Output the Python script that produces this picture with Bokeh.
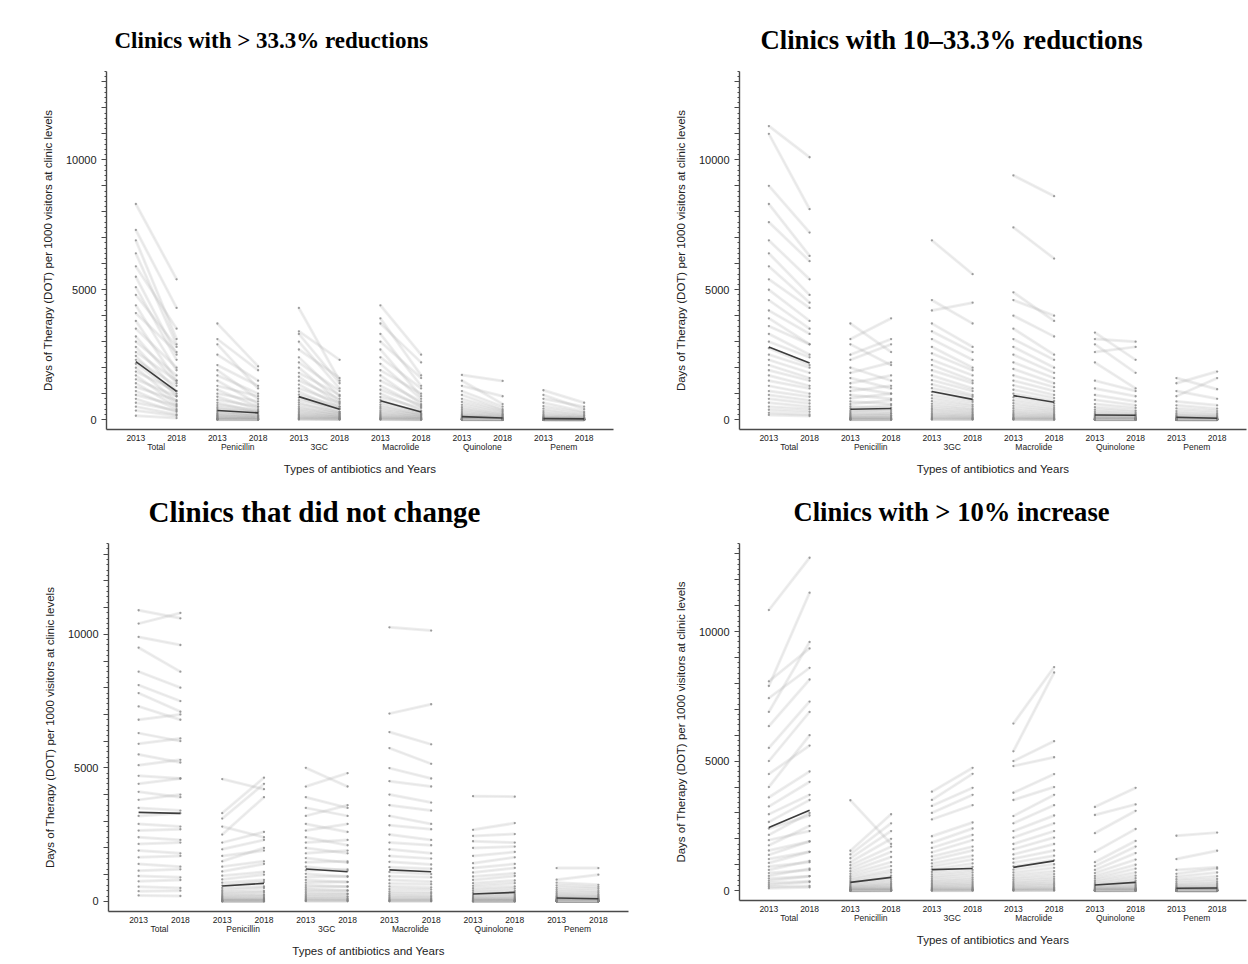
from bokeh.plotting import figure
from bokeh.layouts import column, row
from bokeh.models import (ColumnDataSource, Range1d, FixedTicker, LinearAxis)
from bokeh.embed import file_html
from bokeh.resources import INLINE

# ---------------------------------------------------------------- categories
DRUGS = ["Total", "Penicillin", "3GC", "Macrolide", "Quinolone", "Penem"]
YEARS = ["2013", "2018"]
Y_MAJOR_TICKS = [0, 1000, 2000, 3000, 4000, 5000, 6000, 7000, 8000, 9000,
                 10000, 11000, 12000, 13000]
Y_TICK_LABELS = {0: "0", 5000: "5000", 10000: "10000"}

PANEL_TITLES = ["Clinics with > 33.3% reductions",
                "Clinics with 10\u201333.3% reductions",
                "Clinics that did not change",
                "Clinics with > 10% increase"]

# ------------------------------------------- clinics with > 33.3% reductions
red33_total_2013 = [8300, 7300, 6900, 6400, 5900, 5500, 5100, 4800, 4400, 4100, 3800, 3500, 3200, 3000, 2800, 2600,
                    2450, 2300, 2150, 2000, 1850, 1700, 1550, 1400, 1250, 1100, 950, 800, 650, 500, 350, 150]
red33_total_2018 = [5400, 4300, 3100, 2900, 3500, 2500, 2300, 2800, 1900, 2600, 1500, 2000, 1400, 1700, 1100, 1500,
                    900, 1300, 1000, 700, 1100, 600, 900, 500, 750, 400, 550, 300, 350, 200, 150, 60]
red33_pen_2013 = [3700, 3100, 2900, 2500, 2100, 1900, 1700, 1500, 1300, 1150, 1000, 880, 760, 650, 560, 480,
                  410, 350, 300, 250, 210, 170, 140, 110, 85, 60, 40, 25, 15, 8, 4, 0]
red33_pen_2018 = [2050, 1900, 1200, 1500, 1300, 800, 1000, 600, 900, 500, 700, 400, 500, 300, 350, 250,
                  300, 150, 200, 120, 150, 80, 100, 60, 50, 30, 25, 10, 10, 5, 2, 0]
red33_3gc_2013 = [4300, 3400, 3300, 3000, 2700, 2400, 2200, 2000, 1800, 1650, 1500, 1350, 1200, 1080, 960, 850,
                  750, 660, 580, 500, 430, 370, 310, 260, 210, 170, 130, 95, 65, 40, 20, 5]
red33_3gc_2018 = [1500, 2300, 1400, 1200, 1600, 900, 1100, 700, 950, 600, 800, 500, 650, 400, 500, 300,
                  420, 250, 300, 200, 230, 150, 160, 110, 100, 80, 60, 40, 30, 15, 10, 2]
red33_mac_2013 = [4400, 3900, 3700, 3300, 3000, 2700, 2400, 2150, 1900, 1700, 1500, 1300, 1150, 1000, 870, 760,
                  660, 570, 490, 420, 350, 290, 240, 190, 150, 115, 85, 60, 40, 20, 8, 2]
red33_mac_2018 = [2500, 1700, 2200, 1300, 1600, 900, 1200, 800, 1000, 600, 700, 500, 550, 350, 450, 250,
                  300, 200, 220, 150, 170, 100, 110, 80, 60, 45, 35, 20, 15, 8, 3, 0]
red33_quin_2013 = [1720, 1500, 1300, 1100, 950, 800, 680, 570, 480, 400, 330, 270, 220, 180, 150, 120,
                   95, 75, 60, 48, 38, 30, 22, 16, 11, 8, 5, 3, 2, 1, 0, 0]
red33_quin_2018 = [1490, 600, 900, 500, 400, 350, 300, 250, 200, 180, 140, 110, 90, 70, 60, 50,
                   40, 30, 25, 20, 15, 12, 10, 7, 5, 3, 2, 1, 1, 0, 0, 0]
red33_penem_2013 = [1130, 950, 800, 650, 520, 420, 330, 260, 200, 150, 115, 90, 70, 55, 42, 32,
                    25, 18, 13, 9, 6, 4, 3, 2, 1, 1, 0, 0, 0, 0, 0, 0]
red33_penem_2018 = [650, 400, 500, 300, 250, 180, 150, 100, 80, 60, 50, 40, 30, 22, 18, 14,
                    10, 7, 5, 4, 3, 2, 1, 1, 0, 0, 0, 0, 0, 0, 0, 0]
red33_mean_2013 = [2230, 350, 885, 730, 115, 40]
red33_mean_2018 = [1090, 260, 400, 295, 65, 30]

# ------------------------------------------ clinics with 10-33.3% reductions
red10_total_2013 = [11300, 11000, 9000, 8300, 7600, 6900, 6400, 5900, 5400, 5000, 4600, 4200, 3900, 3600, 3300, 3000,
                    2750, 2500, 2300, 2100, 1900, 1700, 1500, 1300, 1100, 950, 800, 650, 500, 380, 260, 180]
red10_total_2018 = [10100, 8100, 7200, 6300, 6100, 5400, 4800, 4500, 4300, 3800, 3500, 3300, 2900, 2900, 2500, 2400,
                    2100, 2000, 1800, 1600, 1500, 1300, 1200, 1000, 880, 740, 620, 500, 400, 300, 200, 140]
red10_pen_2013 = [3700, 3100, 2900, 2500, 2300, 2000, 1800, 1600, 1400, 1250, 1100, 950, 820, 700, 600, 510,
                  430, 360, 300, 250, 200, 160, 125, 95, 70, 50, 35, 22, 12, 6, 2, 0]
red10_pen_2018 = [2600, 3900, 2100, 3100, 2900, 1500, 2200, 1200, 1700, 1000, 1300, 800, 1000, 600, 750, 450,
                  550, 320, 380, 230, 250, 150, 160, 90, 100, 45, 40, 20, 12, 5, 2, 0]
red10_3gc_2013 = [6900, 4600, 4200, 3700, 3400, 3100, 2800, 2550, 2300, 2100, 1900, 1700, 1520, 1360, 1210, 1070,
                  940, 820, 710, 610, 520, 440, 370, 300, 240, 190, 140, 100, 65, 35, 15, 3]
red10_3gc_2018 = [5600, 3700, 4500, 2800, 2600, 2300, 2000, 1900, 1700, 1500, 1400, 1200, 1100, 950, 880, 760,
                  680, 580, 510, 430, 370, 310, 260, 210, 170, 130, 100, 70, 45, 25, 10, 2]
red10_mac_2013 = [9400, 7400, 4900, 4600, 4000, 3500, 3100, 2800, 2500, 2200, 1950, 1700, 1500, 1320, 1150, 1000,
                  860, 740, 630, 530, 440, 360, 290, 230, 180, 135, 95, 65, 40, 20, 8, 1]
red10_mac_2018 = [8600, 6200, 3800, 4000, 3200, 2500, 2300, 2000, 1800, 1600, 1400, 1250, 1100, 950, 830, 720,
                  620, 530, 450, 380, 320, 260, 210, 170, 130, 100, 70, 45, 28, 14, 5, 0]
red10_quin_2013 = [3350, 3100, 2900, 2600, 2200, 1500, 1200, 950, 760, 600, 480, 380, 300, 240, 190, 150,
                   120, 95, 75, 58, 45, 34, 26, 19, 14, 10, 7, 4, 2, 1, 0, 0]
red10_quin_2018 = [2300, 3000, 1800, 2800, 1200, 1100, 900, 700, 550, 450, 350, 280, 220, 180, 140, 110,
                   90, 70, 55, 42, 33, 25, 19, 14, 10, 7, 5, 3, 2, 1, 0, 0]
red10_penem_2013 = [1600, 1400, 1100, 900, 700, 550, 430, 330, 250, 190, 145, 110, 85, 65, 50, 38,
                    29, 22, 16, 12, 9, 6, 4, 3, 2, 1, 1, 0, 0, 0, 0, 0]
red10_penem_2018 = [1170, 1850, 800, 1600, 550, 420, 330, 250, 190, 140, 110, 80, 62, 48, 36, 27,
                    20, 15, 11, 8, 6, 4, 3, 2, 1, 1, 0, 0, 0, 0, 0, 0]
red10_mean_2013 = [2795, 400, 1080, 925, 180, 90]
red10_mean_2018 = [2180, 430, 780, 670, 170, 55]

# ---------------------------------------------- clinics that did not change
same_total_2013 = [10900, 10400, 9900, 9500, 8600, 8100, 7800, 7300, 6800, 6300, 5900, 5500, 5100, 4700, 4400, 4100,
                   3800, 3500, 3200, 2900, 2650, 2400, 2150, 1900, 1650, 1400, 1150, 950, 750, 550, 380, 220]
same_total_2018 = [10600, 10800, 9600, 8600, 8000, 7500, 7100, 6800, 7000, 6000, 6100, 5200, 5300, 4600, 4600, 3900,
                   4000, 3400, 3300, 2800, 2700, 2300, 2200, 1800, 1700, 1300, 1200, 900, 800, 500, 400, 200]
same_pen_2013 = [4580, 3300, 3100, 2800, 2500, 2200, 1950, 1700, 1500, 1300, 1120, 960, 820, 700, 590, 500,
                 420, 350, 290, 240, 195, 155, 120, 90, 65, 45, 30, 18, 10, 4, 1, 0]
same_pen_2018 = [4200, 4630, 4400, 2400, 3900, 2600, 2300, 1900, 2000, 1500, 1400, 1100, 1000, 800, 720, 560,
                 500, 390, 340, 260, 220, 170, 130, 100, 70, 50, 33, 20, 11, 5, 1, 0]
same_3gc_2013 = [5000, 4300, 3900, 3500, 3200, 2900, 2650, 2400, 2200, 2000, 1800, 1620, 1460, 1300, 1160, 1030,
                 910, 800, 700, 610, 530, 455, 385, 320, 260, 205, 155, 110, 75, 45, 20, 5]
same_3gc_2018 = [4300, 4800, 3500, 3200, 3600, 2600, 2900, 2100, 2300, 1800, 1900, 1450, 1500, 1150, 1200, 920,
                 940, 720, 730, 550, 560, 410, 400, 290, 270, 190, 160, 100, 80, 40, 22, 4]
same_mac_2013 = [10260, 7030, 6340, 5740, 4990, 4500, 4000, 3600, 3200, 2850, 2500, 2200, 1950, 1700, 1480, 1280,
                 1100, 940, 800, 670, 560, 460, 370, 295, 230, 175, 125, 85, 55, 30, 12, 2]
same_mac_2018 = [10140, 7380, 5880, 5150, 4600, 4300, 3700, 3400, 2900, 2700, 2300, 2100, 1800, 1600, 1380, 1220,
                 1020, 900, 740, 640, 520, 440, 340, 280, 210, 165, 115, 80, 50, 28, 10, 1]
same_quin_2013 = [3940, 2680, 2450, 2250, 2000, 1700, 1430, 1250, 1080, 930, 800, 680, 580, 490, 410, 340,
                  280, 230, 185, 150, 120, 95, 74, 56, 42, 30, 20, 12, 7, 3, 1, 0]
same_quin_2018 = [3920, 2930, 2520, 2200, 2050, 1850, 1650, 1400, 1250, 1050, 950, 780, 680, 560, 480, 390,
                  330, 270, 220, 175, 140, 110, 85, 65, 48, 34, 23, 14, 8, 4, 1, 0]
same_penem_2013 = [1245, 810, 700, 600, 510, 430, 360, 300, 250, 205, 170, 140, 115, 92, 74, 58,
                   45, 35, 27, 20, 15, 11, 8, 5, 3, 2, 1, 0, 0, 0, 0, 0]
same_penem_2018 = [1245, 1000, 620, 540, 470, 390, 330, 270, 220, 185, 150, 120, 100, 80, 64, 50,
                   40, 30, 23, 17, 13, 9, 6, 4, 3, 2, 1, 0, 0, 0, 0, 0]
same_mean_2013 = [3330, 572, 1210, 1180, 275, 125]
same_mean_2018 = [3295, 672, 1110, 1110, 335, 95]

# ---------------------------------------------- clinics with > 10% increase
inc_total_2013 = [10830, 8080, 7900, 7430, 6900, 6350, 5510, 5000, 4500, 4000, 3600, 3250, 2950, 2650, 2400, 2150,
                  1950, 1750, 1550, 1380, 1220, 1070, 930, 800, 680, 570, 470, 380, 300, 220, 150, 90]
inc_total_2018 = [12850, 9350, 11500, 8600, 9600, 8150, 7300, 6900, 5600, 6000, 4600, 4200, 3700, 3500, 2900, 3000,
                  2300, 2500, 1900, 1900, 1500, 1500, 1100, 1150, 800, 850, 560, 560, 360, 330, 180, 130]
inc_pen_2013 = [3490, 1540, 1400, 1250, 1100, 980, 860, 750, 650, 560, 480, 410, 350, 295, 245, 200,
                165, 135, 108, 85, 66, 50, 37, 27, 19, 13, 8, 5, 3, 1, 0, 0]
inc_pen_2018 = [1800, 2950, 2600, 2300, 2000, 1700, 1500, 1300, 1100, 950, 800, 700, 580, 500, 420, 350,
                290, 240, 195, 155, 120, 95, 72, 54, 40, 28, 18, 11, 6, 3, 1, 0]
inc_3gc_2013 = [3820, 3500, 3270, 3000, 2750, 2100, 1850, 1650, 1480, 1320, 1180, 1050, 930, 820, 720, 630,
                550, 475, 405, 345, 290, 240, 195, 155, 120, 90, 65, 45, 28, 15, 6, 1]
inc_3gc_2018 = [4740, 4510, 3970, 3700, 3300, 2630, 2400, 2150, 1950, 1700, 1550, 1350, 1200, 1050, 920, 800,
                700, 600, 510, 430, 360, 300, 245, 195, 150, 115, 85, 58, 36, 20, 8, 1]
inc_mac_2013 = [6450, 5380, 5000, 4810, 3780, 3500, 2880, 2600, 2300, 2050, 1800, 1600, 1400, 1230, 1080, 940,
                810, 700, 600, 510, 430, 360, 295, 240, 190, 145, 105, 72, 45, 25, 10, 2]
inc_mac_2018 = [8630, 8420, 5770, 5150, 4500, 4000, 3700, 3300, 2900, 2600, 2300, 2050, 1800, 1550, 1350, 1180,
                1020, 880, 750, 640, 540, 450, 370, 300, 240, 185, 135, 95, 60, 33, 14, 3]
inc_quin_2013 = [3230, 2920, 2220, 1500, 1100, 950, 800, 680, 570, 480, 400, 330, 270, 220, 180, 145,
                 115, 90, 70, 54, 41, 31, 23, 17, 12, 8, 5, 3, 2, 1, 0, 0]
inc_quin_2018 = [3970, 3330, 3080, 2380, 1920, 1700, 1450, 1200, 1000, 850, 700, 580, 480, 390, 320, 260,
                 210, 170, 135, 105, 82, 63, 48, 36, 26, 18, 12, 7, 4, 2, 1, 0]
inc_penem_2013 = [2120, 1220, 800, 650, 540, 440, 360, 290, 230, 185, 145, 115, 90, 70, 54, 41,
                  31, 23, 17, 12, 9, 6, 4, 3, 2, 1, 1, 0, 0, 0, 0, 0]
inc_penem_2018 = [2240, 1540, 900, 850, 700, 560, 450, 360, 290, 230, 180, 140, 110, 85, 65, 50,
                  38, 28, 21, 15, 11, 8, 5, 3, 2, 1, 1, 0, 0, 0, 0, 0]
inc_mean_2013 = [2436, 320, 810, 900, 220, 90]
inc_mean_2018 = [3100, 512, 858, 1150, 320, 100]

PANEL_DATA = [
    ([(red33_total_2013, red33_total_2018), (red33_pen_2013, red33_pen_2018), (red33_3gc_2013, red33_3gc_2018),
      (red33_mac_2013, red33_mac_2018), (red33_quin_2013, red33_quin_2018), (red33_penem_2013, red33_penem_2018)],
     red33_mean_2013, red33_mean_2018),
    ([(red10_total_2013, red10_total_2018), (red10_pen_2013, red10_pen_2018), (red10_3gc_2013, red10_3gc_2018),
      (red10_mac_2013, red10_mac_2018), (red10_quin_2013, red10_quin_2018), (red10_penem_2013, red10_penem_2018)],
     red10_mean_2013, red10_mean_2018),
    ([(same_total_2013, same_total_2018), (same_pen_2013, same_pen_2018), (same_3gc_2013, same_3gc_2018),
      (same_mac_2013, same_mac_2018), (same_quin_2013, same_quin_2018), (same_penem_2013, same_penem_2018)],
     same_mean_2013, same_mean_2018),
    ([(inc_total_2013, inc_total_2018), (inc_pen_2013, inc_pen_2018), (inc_3gc_2013, inc_3gc_2018),
      (inc_mac_2013, inc_mac_2018), (inc_quin_2013, inc_quin_2018), (inc_penem_2013, inc_penem_2018)],
     inc_mean_2013, inc_mean_2018),
]

SANS = "Liberation Sans"
SERIF = "Liberation Serif"
AXIS_GREY = "#4a4a4a"
TEXT = "#222222"


def make_panel(idx, width, height, border, title_style):
    pairs, mean13, mean18 = PANEL_DATA[idx]
    left, right, top, bottom = border
    t_size, t_offset, t_standoff = title_style
    p = figure(width=width, height=height, output_backend="svg", toolbar_location=None,
               x_range=Range1d(0.28, 12.72), y_range=Range1d(-380, 13400),
               min_border_left=left, min_border_right=right,
               min_border_top=top, min_border_bottom=bottom)
    p.xgrid.visible = False
    p.ygrid.visible = False
    p.outline_line_color = None

    p.title.text = PANEL_TITLES[idx]
    p.title.align = "left"
    p.title.offset = t_offset
    p.title.standoff = t_standoff
    p.title.text_font = SERIF
    p.title.text_font_style = "bold"
    p.title.text_font_size = t_size
    p.title.text_color = "black"

    # one segment per clinic, from its 2013 value to its 2018 value
    x0, y0, x1, y1 = [], [], [], []
    for k, (v13, v18) in enumerate(pairs):
        for a, b in zip(v13, v18):
            x0.append(2 * k + 1)
            x1.append(2 * k + 2)
            y0.append(a)
            y1.append(b)
    seg = ColumnDataSource(dict(x0=x0, y0=y0, x1=x1, y1=y1))
    p.segment("x0", "y0", "x1", "y1", source=seg, line_color="#8f8f8f",
              line_alpha=0.15, line_width=3.0)
    p.segment("x0", "y0", "x1", "y1", source=seg, line_color="#c4c4c4",
              line_alpha=0.35, line_width=0.6)

    dots = ColumnDataSource(dict(x=x0 + x1, y=y0 + y1))
    p.scatter("x", "y", source=dots, size=2.3, marker="circle",
              fill_color="#858585", line_color=None, fill_alpha=0.8)

    # group average line for each antibiotic
    mx0 = [2 * k + 1 for k in range(len(DRUGS))]
    mx1 = [2 * k + 2 for k in range(len(DRUGS))]
    msrc = ColumnDataSource(dict(x0=mx0, y0=mean13, x1=mx1, y1=mean18))
    p.segment("x0", "y0", "x1", "y1", source=msrc, line_color="#3c3c3c",
              line_width=1.6)

    # y axis: labelled every 5000, ticks every 1000, minor every 200
    yax = p.yaxis[0]
    yax.ticker = FixedTicker(ticks=Y_MAJOR_TICKS,
                             minor_ticks=list(range(0, 13401, 200)))
    yax.major_label_overrides = {t: Y_TICK_LABELS.get(t, "") for t in Y_MAJOR_TICKS}
    yax.axis_label = "Days of Therapy (DOT) per 1000 visitors at clinic levels"
    yax.axis_label_text_font = SANS
    yax.axis_label_text_font_style = "normal"
    yax.axis_label_text_font_size = "11.5px"
    yax.axis_label_text_color = TEXT
    yax.axis_label_standoff = 9
    yax.major_label_text_font = SANS
    yax.major_label_text_font_size = "11px"
    yax.major_label_text_color = TEXT
    yax.major_label_standoff = 5
    yax.axis_line_color = AXIS_GREY
    yax.axis_line_width = 1.4
    yax.major_tick_line_color = AXIS_GREY
    yax.minor_tick_line_color = AXIS_GREY
    yax.major_tick_out = 5
    yax.major_tick_in = 0
    yax.minor_tick_out = 2
    yax.minor_tick_in = 0

    # x axis: year under each column
    xax = p.xaxis[0]
    xax.ticker = FixedTicker(ticks=list(range(1, 13)), minor_ticks=[])
    xax.major_label_overrides = {i + 1: YEARS[i % 2] for i in range(12)}
    xax.major_label_text_font = SANS
    xax.major_label_text_font_size = "8.5px"
    xax.major_label_text_color = TEXT
    xax.major_label_standoff = 5
    xax.major_tick_line_color = None
    xax.minor_tick_line_color = None
    xax.major_tick_out = 0
    xax.major_tick_in = 0
    xax.minor_tick_out = 0
    xax.minor_tick_in = 0
    xax.axis_line_color = AXIS_GREY
    xax.axis_line_width = 1.4

    # second row of x labels: antibiotic name centred on its pair of years
    cat_ticks = [2 * k + 1.5 for k in range(len(DRUGS))]
    cax = LinearAxis(ticker=FixedTicker(ticks=cat_ticks, minor_ticks=[]),
                     major_label_overrides={t: d for t, d in zip(cat_ticks, DRUGS)})
    cax.axis_line_color = None
    cax.major_tick_line_color = None
    cax.minor_tick_line_color = None
    cax.major_tick_out = 0
    cax.major_tick_in = 0
    cax.minor_tick_out = 0
    cax.minor_tick_in = 0
    cax.major_label_text_font = SANS
    cax.major_label_text_font_size = "8.5px"
    cax.major_label_text_color = TEXT
    cax.major_label_standoff = -2
    cax.axis_label = "Types of antibiotics and Years"
    cax.axis_label_text_font = SANS
    cax.axis_label_text_font_style = "normal"
    cax.axis_label_text_font_size = "11.5px"
    cax.axis_label_text_color = TEXT
    cax.axis_label_standoff = 8
    p.add_layout(cax, "below")
    return p


p1 = make_panel(0, 630, 478, (106, 17, 71, 49), ("23px", 8, 37))
p2 = make_panel(1, 618, 478, (109, 2, 71, 49), ("26.7px", 21, 33))
p3 = make_panel(2, 630, 486, (108, 2, 65, 53), ("29px", 40, 31))
p4 = make_panel(3, 618, 486, (109, 2, 65, 64), ("26.6px", 54, 33))

# each panel sits in its own box so the frames keep their own sizes
layout = column(row(column(p1), column(p2)), row(column(p3), column(p4)))

with open("out.html", "w") as fh:
    fh.write(file_html(layout, INLINE))
